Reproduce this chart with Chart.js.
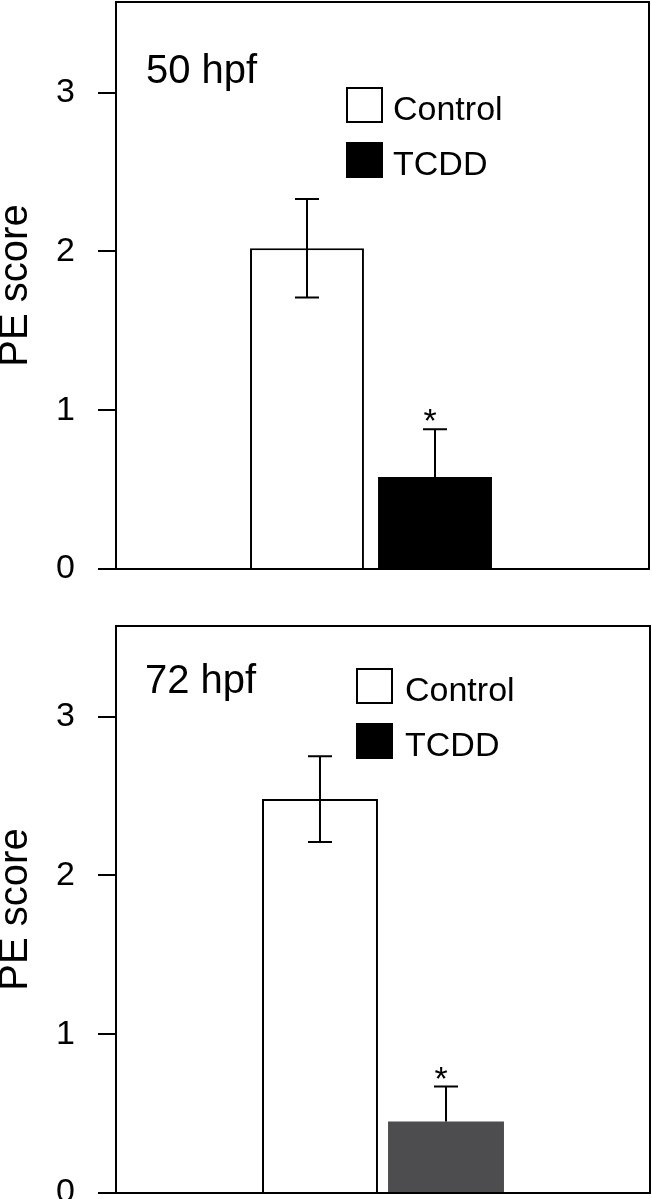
<!DOCTYPE html>
<html>
<head>
<meta charset="utf-8">
<script src="https://cdn.jsdelivr.net/npm/chart.js@4"></script>
<style>
  body { margin: 0; background: #fff; }
  #page { position: relative; width: 652px; height: 1199px; overflow: hidden;
          font-family: "Liberation Sans", Arial, sans-serif; color: #000; }
  canvas { position: absolute; left: 0; }
  .title { position: absolute; font-size: 40px; line-height: 40px; white-space: nowrap; }
  .legend { position: absolute; }
  .item { display: flex; align-items: flex-start; height: 36px; margin-bottom: 19px; }
  .swatch { width: 33px; height: 32px; border: 2px solid #000; box-sizing: content-box; }
  .item span { font-size: 34px; line-height: 36px; position: relative; top: 3px; white-space: nowrap; }
</style>
</head>
<body>
<div id="page">
  <canvas id="chart50" width="652" height="600" style="top:0"></canvas>
  <canvas id="chart72" width="652" height="599" style="top:600px"></canvas>
  <div class="title" id="title50" style="left:146px; top:49px"></div>
  <div class="title" id="title72" style="left:145px; top:659px"></div>
  <div class="legend" id="legend50" style="left:346px; top:87px"></div>
  <div class="legend" id="legend72" style="left:356px; top:668px"></div>
</div>
<script>
// data
const groups = ['Control', 'TCDD'];
const panelTitles = ['50 hpf', '72 hpf'];
const means50 = [2.02, 0.58];
const errors50 = [0.31, 0.30];
const means72 = [2.48, 0.45];
const errors72 = [0.27, 0.22];
const lowerWhisker = [true, false];   // TCDD bars only show the upper half
const significant = [false, true];     // asterisk above bar
const yMax = 3.57;

const FONT = '"Liberation Sans", Arial, sans-serif';
Chart.defaults.font.family = FONT;
Chart.defaults.color = '#000';

// box around the plot area (right edge can sit past the chart area)
const framePlugin = {
    id: 'frame',
    afterDatasetsDraw(chart, args, opts) {
        const a = chart.chartArea;
        const ctx = chart.ctx;
        ctx.save();
        ctx.strokeStyle = '#000';
        ctx.lineWidth = 2;
        ctx.strokeRect(a.left, a.top, opts.right - a.left, a.bottom - a.top);
        ctx.restore();
    }
};

const errorBarPlugin = {
    id: 'errorBars',
    afterDraw(chart, args, opts) {
        const ctx = chart.ctx;
        const y = chart.scales.y;
        ctx.save();
        ctx.strokeStyle = '#000';
        ctx.fillStyle = '#000';
        ctx.lineWidth = 2;
        chart.data.datasets.forEach((ds, i) => {
            const bar = chart.getDatasetMeta(i).data[0];
            const m = ds.data[0];
            const e = opts.errors[i];
            const top = y.getPixelForValue(m + e);
            const bottom = lowerWhisker[i] ? y.getPixelForValue(m - e) : bar.y;
            ctx.beginPath();
            ctx.moveTo(bar.x, bottom);
            ctx.lineTo(bar.x, top);
            ctx.moveTo(bar.x - 12, top);
            ctx.lineTo(bar.x + 12, top);
            if (lowerWhisker[i]) {
                ctx.moveTo(bar.x - 12, bottom);
                ctx.lineTo(bar.x + 12, bottom);
            }
            ctx.stroke();
            if (significant[i]) {
                ctx.font = '34px ' + FONT;
                ctx.textAlign = 'center';
                ctx.textBaseline = 'alphabetic';
                ctx.fillText('*', bar.x - 5, top + 3);
            }
        });
        ctx.restore();
    }
};

function makeChart(id, means, errors, tcddColor, pad, frameRight, catPct, barPct) {
    const fills = ['#fff', tcddColor];
    new Chart(document.getElementById(id), {
        type: 'bar',
        data: {
            labels: [''],
            datasets: groups.map((g, i) => ({
                label: g,
                data: [means[i]],
                backgroundColor: fills[i],
                borderColor: '#000',
                borderWidth: i === 0 ? 2 : 0,
                categoryPercentage: catPct,
                barPercentage: barPct
            }))
        },
        options: {
            responsive: false,
            animation: false,
            layout: { padding: pad },
            scales: {
                x: { display: false },
                y: {
                    min: 0,
                    max: yMax,
                    afterFit: function (scale) {
                        scale.width = 116;
                        scale.paddingTop = 0;
                        scale.paddingBottom = 0;
                    },
                    border: { display: false },
                    grid: {
                        drawOnChartArea: false,
                        drawTicks: true,
                        tickLength: 18,
                        lineWidth: 2,
                        color: '#000'
                    },
                    ticks: {
                        stepSize: 1,
                        includeBounds: false,
                        padding: 23,
                        font: { size: 34 },
                        color: '#000'
                    },
                    title: {
                        display: true,
                        text: 'PE score',
                        font: { size: 40, lineHeight: 0.8 },
                        padding: 0,
                        color: '#000'
                    }
                }
            },
            plugins: {
                legend: { display: false },
                tooltip: { enabled: false },
                frame: { right: frameRight },
                errorBars: { errors: errors }
            }
        },
        plugins: [framePlugin, errorBarPlugin]
    });
}

makeChart('chart50', means50, errors50, '#000',
    { left: 0, right: 26, top: 2, bottom: 31 }, 649, 0.502, 0.89);
makeChart('chart72', means72, errors72, '#4d4d4f',
    { left: 0, right: 2, top: 26, bottom: 6 }, 650, 0.472, 0.92);

// panel titles and legends as html text
const legendFills = ['#fff', '#000'];
function fillLegend(id) {
    const box = document.getElementById(id);
    groups.forEach((g, i) => {
        const row = document.createElement('div');
        row.className = 'item';
        const sw = document.createElement('div');
        sw.className = 'swatch';
        sw.style.background = legendFills[i];
        const label = document.createElement('span');
        label.style.marginLeft = id === 'legend50' ? '10px' : '12px';
        label.textContent = g;
        row.appendChild(sw);
        row.appendChild(label);
        box.appendChild(row);
    });
}
document.getElementById('title50').textContent = panelTitles[0];
document.getElementById('title72').textContent = panelTitles[1];
fillLegend('legend50');
fillLegend('legend72');
</script>
</body>
</html>
